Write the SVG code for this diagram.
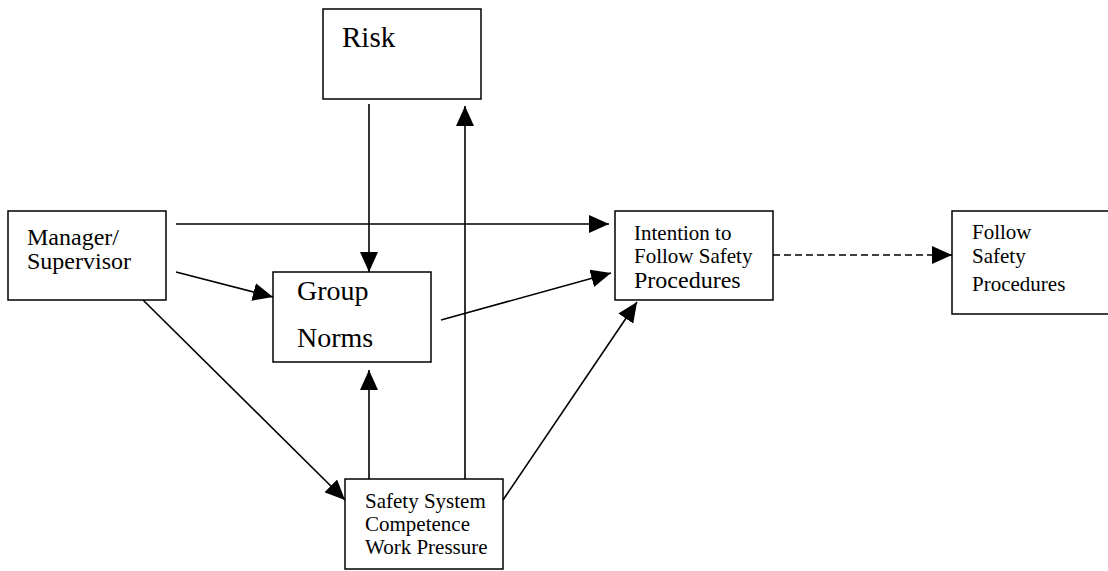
<svg xmlns="http://www.w3.org/2000/svg" width="1108" height="571" viewBox="0 0 1108 571">
<style>
.box{fill:#fff;stroke:#000;stroke-width:1.5}
.t{font-family:"Liberation Serif","Times New Roman",serif;fill:#000}
.c{fill:none;stroke:#000;stroke-width:1.6}
.d{stroke-dasharray:7 4}
</style>
<defs>
<marker id="ah" markerUnits="userSpaceOnUse" markerWidth="20" markerHeight="18" refX="20" refY="9" orient="auto">
<path d="M0,0 L20,9 L0,18 z" fill="#000"/>
</marker>
</defs>
<rect width="1108" height="571" fill="#fff"/>
<g id="risk">
<rect class="box" x="323" y="9" width="158" height="90"/>
<text class="t" x="342" y="47" font-size="29">Risk</text>
</g>
<g id="manager">
<rect class="box" x="8" y="211" width="158" height="89"/>
<text class="t" x="27" y="245" font-size="24">Manager/</text>
<text class="t" x="27" y="269" font-size="24">Supervisor</text>
</g>
<g id="group-norms">
<rect class="box" x="273" y="272" width="158" height="90"/>
<text class="t" x="297" y="300" font-size="28">Group</text>
<text class="t" x="297" y="347" font-size="28">Norms</text>
</g>
<g id="intention">
<rect class="box" x="615" y="211" width="158" height="89"/>
<text class="t" x="634" y="240" font-size="21">Intention to</text>
<text class="t" x="634" y="263" font-size="21">Follow Safety</text>
<text class="t" x="634" y="288" font-size="24">Procedures</text>
</g>
<g id="follow">
<rect class="box" x="952" y="211" width="170" height="103"/>
<text class="t" x="972" y="239" font-size="21">Follow</text>
<text class="t" x="972" y="263" font-size="21">Safety</text>
<text class="t" x="972" y="291" font-size="21">Procedures</text>
</g>
<g id="safety">
<rect class="box" x="345" y="479" width="158" height="90"/>
<text class="t" x="365" y="508" font-size="21">Safety System</text>
<text class="t" x="365" y="531" font-size="21">Competence</text>
<text class="t" x="365" y="554" font-size="21">Work Pressure</text>
</g>
<g id="connectors">
<line class="c" x1="369" y1="104" x2="369" y2="272" marker-end="url(#ah)"/>
<line class="c" x1="465" y1="479" x2="465" y2="106" marker-end="url(#ah)"/>
<line class="c" x1="369" y1="479" x2="369" y2="370" marker-end="url(#ah)"/>
<line class="c" x1="176" y1="224" x2="609" y2="224" marker-end="url(#ah)"/>
<line class="c" x1="176" y1="272" x2="273" y2="297" marker-end="url(#ah)"/>
<line class="c" x1="143" y1="300" x2="345" y2="500" marker-end="url(#ah)"/>
<line class="c" x1="441" y1="320" x2="611" y2="273" marker-end="url(#ah)"/>
<line class="c" x1="503" y1="500" x2="637" y2="302" marker-end="url(#ah)"/>
<line class="c d" x1="773" y1="255" x2="952" y2="255" marker-end="url(#ah)"/>
</g>
</svg>
